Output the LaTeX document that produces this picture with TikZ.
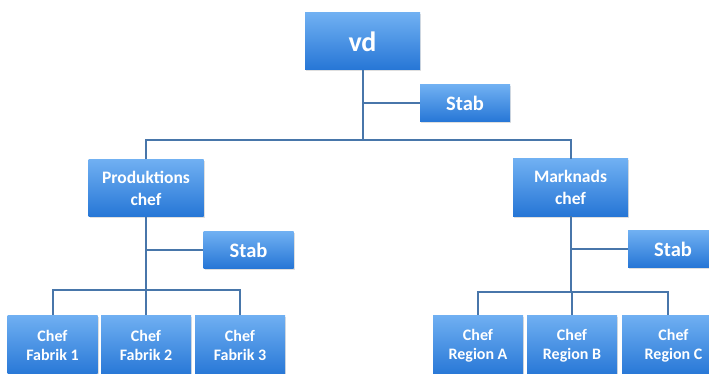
\documentclass[tikz,border=0pt]{standalone}
\usepackage{fontspec}
\setmainfont{Carlito}
\usepackage{tikz}
\usetikzlibrary{shadows}
\definecolor{boxtop}{RGB}{112,176,242}
\definecolor{boxbot}{RGB}{38,118,214}
\definecolor{linkblue}{RGB}{72,118,170}

\begin{document}
\begin{tikzpicture}[x=1pt, y=-1pt,
    box/.style={rectangle, top color=boxtop, bottom color=boxbot, draw=none,
        text=white, align=center, inner sep=0pt,
        drop shadow={shadow xshift=1pt, shadow yshift=-1.5pt, opacity=0.25, fill=black!50}},
    bigbox/.style={box, minimum width=115pt, minimum height=57pt},
    stabbox/.style={box, minimum width=90pt, minimum height=37pt, font=\bfseries\fontsize{20.5}{24}\selectfont},
    chefbox/.style={box, minimum width=90pt, minimum height=61pt, font=\bfseries\fontsize{16}{19.5}\selectfont},
    link/.style={draw=linkblue, line width=2pt}]
    \useasboundingbox (0,0) rectangle (709,374);
    \fill[white] (0,0) rectangle (709,374);

    % Top: vd with its stab
    \node[bigbox, font=\bfseries\fontsize{28}{32}\selectfont] (vd) at (362.5,41.5) {vd};
    \node[stabbox] (stabTop) at (465,103.5) {Stab};

    % Middle level
    \node[bigbox, font=\bfseries\fontsize{17.5}{22}\selectfont] (prod) at (146,188) {Produktions\\chef};
    \node[bigbox, font=\bfseries\fontsize{17.5}{22}\selectfont] (mark) at (570.5,187.5) {Marknads\\chef};
    \node[stabbox] (stabProd) at (248.5,250) {Stab};
    \node[stabbox] (stabMark) at (673,249) {Stab};

    % Bottom level
    \node[chefbox] (fab1) at (52.5,345.5) {Chef\\Fabrik 1};
    \node[chefbox] (fab2) at (146,345.5) {Chef\\Fabrik 2};
    \node[chefbox] (fab3) at (240,345.5) {Chef\\Fabrik 3};
    \node[chefbox] (regA) at (478,345.5) {Chef\\Region A};
    \node[chefbox] (regB) at (572,345.5) {Chef\\Region B};
    \node[chefbox, minimum width=103pt] (regC) at (673.5,345.5) {Chef\\Region C};

    % Connectors
    \coordinate (bar) at (0,140);
    \coordinate (fbar) at (0,290);
    \coordinate (rbar) at (0,292);
    \coordinate (regCtop) at (668,315);
    \draw[link] (vd.south) -- (vd.south |- bar);
    \draw[link] (stabTop.west) -- (stabTop.west -| vd.south);
    \draw[link] (prod.north) |- (mark.north |- bar) -- (mark.north);

    \draw[link] (prod.south) -- (prod.south |- fbar);
    \draw[link] (stabProd.west) -- (stabProd.west -| prod.south);
    \draw[link] (fab1.north) |- (fab3.north |- fbar) -- (fab3.north);
    \draw[link] (fab2.north) -- (fab2.north |- fbar);

    \draw[link] (mark.south) -- (mark.south |- rbar);
    \draw[link] (stabMark.west) -- (stabMark.west -| mark.south);
    \draw[link] (regA.north) |- (regCtop |- rbar) -- (regCtop);
    \draw[link] (regB.north) -- (regB.north |- rbar);
\end{tikzpicture}
\end{document}
